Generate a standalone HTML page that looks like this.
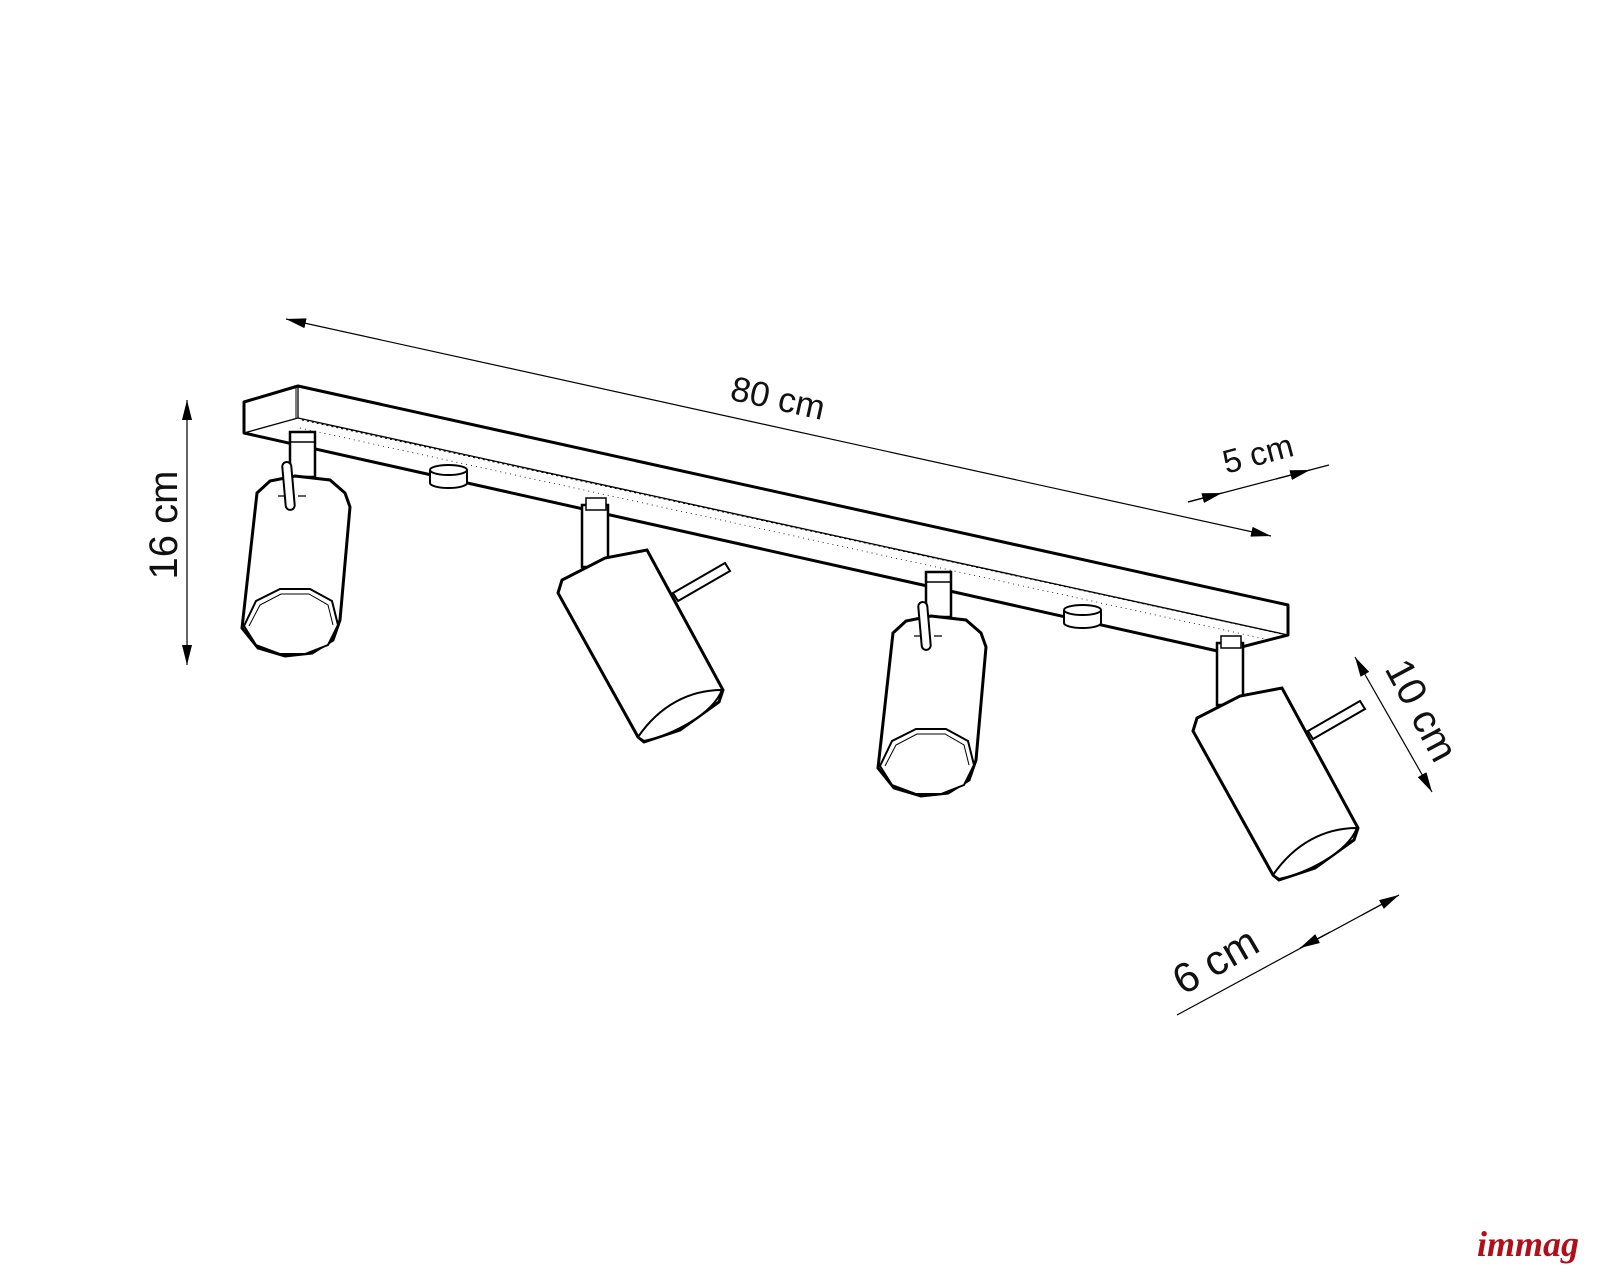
<!DOCTYPE html>
<html><head><meta charset="utf-8"><style>
html,body{margin:0;padding:0;background:#fff;}
svg{display:block}
text{font-family:"Liberation Sans",sans-serif;fill:#111;}
</style></head><body>
<svg width="1600" height="1280" viewBox="0 0 1600 1280" xmlns="http://www.w3.org/2000/svg">
<defs>
<marker id="ar" viewBox="0 0 20 10" refX="20" refY="5" markerWidth="20" markerHeight="10" markerUnits="userSpaceOnUse" orient="auto-start-reverse">
<path d="M0,0 L20,5 L0,10 Z" fill="#000"/>
</marker>
<g id="lampA" fill="#fff" stroke="#000">
 <rect x="290" y="432" width="25" height="45" stroke-width="2.5"/>
 <line x1="290" y1="442" x2="315" y2="442" stroke-width="1.5"/>
 <path d="M257,493 L270,481 L295,476 L330,480 L345,493 L350,507 L340,620 L333,640 L312,653 L285,656 L258,648 L242,628 Z" stroke-width="3"/>
 <path d="M244,626 L256,601 L280,589 L310,589 L332,601 L338,625 L328,645 L305,654 L280,654 L256,645 Z" stroke-width="2"/>
 <path d="M249,626 L260,605 L281,594 L309,594 L328,605 L333,625" fill="none" stroke-width="1"/>
 <rect x="284" y="462" width="9" height="48" rx="4.5" transform="rotate(-5 288 486)" stroke-width="2"/>
 <path d="M278,496 h6 M298,496 h8" stroke-width="1.2"/>
</g>
<g id="lampB" fill="#fff" stroke="#000">
 <rect x="582" y="505" width="26" height="62" stroke-width="2.5"/>
 <rect x="586" y="498" width="20" height="12" stroke-width="1.5"/>
 <path d="M673,593 L725,563 L730,571 L678,601 Z" stroke-width="2"/>
 <path d="M558,593 L562,580 L605,558 L647,550 L723,690 L719,702 L680,730 L644,742 L638,737 Z" stroke-width="3"/>
 <path d="M638,737 C660,705 690,690 722,690 C712,715 672,735 644,741 Z" stroke-width="2"/>
 <line x1="650" y1="556" x2="720" y2="685" stroke-width="1"/>
</g>
</defs>

<g fill="#fff" stroke="#000" stroke-linejoin="round">
 <path d="M244,402 L298,386 L1288,605 L1288,635 L1222,652 L244,433 Z" stroke-width="3"/>
 <path d="M298,386 L298,418 M244,433 L298,418 L1288,635" fill="none" stroke-width="1.3"/>
 <path d="M302,420 L1282,634" fill="none" stroke-width="1" stroke-dasharray="2,3"/>
 <path d="M300,428 L1270,640" fill="none" stroke-width="0.8" stroke-dasharray="1,4"/>
 <path d="M296,387 L296,418" fill="none" stroke-width="1"/>
</g>
<g fill="#fff" stroke="#000" stroke-width="2">
 <path d="M430,470 L430,483 A18.5,5 0 0 0 467,483 L467,470"/>
 <ellipse cx="448.5" cy="470" rx="18.5" ry="5"/>
 <path d="M1064,610 L1064,623 A18.5,5 0 0 0 1101,623 L1101,610"/>
 <ellipse cx="1082.5" cy="610" rx="18.5" ry="5"/>
</g>

<use href="#lampA"/>
<use href="#lampA" transform="translate(636,140)"/>
<use href="#lampB"/>
<use href="#lampB" transform="translate(635,138)"/>

<g stroke="#000" stroke-width="1.2" fill="none">
 <line x1="286" y1="319" x2="1271" y2="536" marker-start="url(#ar)" marker-end="url(#ar)"/>
 <line x1="187" y1="400" x2="187" y2="665" marker-start="url(#ar)" marker-end="url(#ar)"/>
 <line x1="1188" y1="502" x2="1329" y2="465"/>
 <line x1="1188" y1="502" x2="1222" y2="493" marker-end="url(#ar)"/>
 <line x1="1310" y1="470" x2="1276" y2="479" marker-start="url(#ar)"/>
 <line x1="1355" y1="657" x2="1432" y2="792" marker-start="url(#ar)" marker-end="url(#ar)"/>
 <line x1="1177" y1="1015" x2="1399" y2="895"/>
 <line x1="1362" y1="915" x2="1399" y2="895" marker-end="url(#ar)"/>
 <line x1="1330" y1="932" x2="1300" y2="948" marker-end="url(#ar)"/>
</g>
<text x="778" y="410" font-size="35" text-anchor="middle" transform="rotate(12.4 778 398)">80 cm</text>
<text x="1258" y="465" font-size="33" text-anchor="middle" transform="rotate(-15 1258 454)">5 cm</text>
<text x="163" y="539" font-size="40" text-anchor="middle" transform="rotate(-90 163 525)">16 cm</text>
<text x="1422" y="724" font-size="40" text-anchor="middle" transform="rotate(62 1422 710)">10 cm</text>
<text x="1215" y="975" font-size="42" text-anchor="middle" transform="rotate(-30 1215 960)">6 cm</text>

<text x="1528" y="1256" font-size="36" font-style="italic" font-weight="bold" text-anchor="middle" style="font-family:'Liberation Serif',serif;fill:#b0101a">immag</text>
</svg>
</body></html>
